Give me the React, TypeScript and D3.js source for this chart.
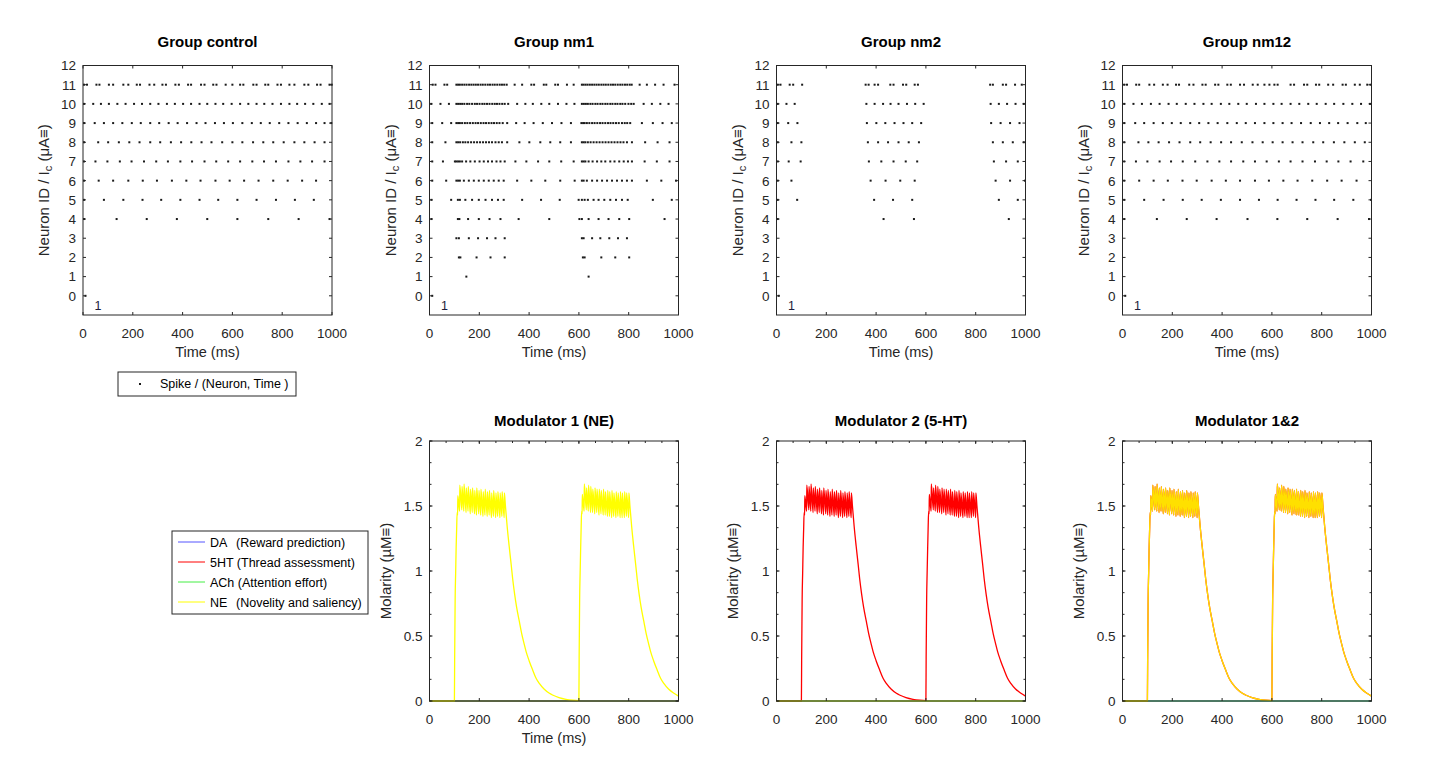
import React from "react";
import * as d3 from "d3";

const FONT = "'Liberation Sans', Arial, Helvetica, sans-serif";
const INK = "#262626";

const timeTicks = [0, 200, 400, 600, 800, 1000];
const neuronTicks = [0, 1, 2, 3, 4, 5, 6, 7, 8, 9, 10, 11, 12];
const molarityTicks = [0, 0.5, 1, 1.5, 2];

// spike times (ms) per neuron id 0..11
const controlSpikes: number[][] = [
	[10],
	[],
	[],
	[],
	[4, 135, 256, 377, 499, 620, 744, 866, 990],
	[4, 84, 162, 239, 314, 391, 468, 543, 620, 697, 775, 851, 927],
	[4, 63, 121, 182, 240, 297, 357, 415, 472, 532, 589, 647, 705, 764, 822, 880, 936],
	[4, 50, 98, 148, 195, 245, 294, 341, 391, 438, 488, 535, 583, 631, 680, 727, 775, 825, 873, 920, 970],
	[4, 61, 101, 144, 186, 227, 270, 310, 353, 394, 435, 476, 516, 559, 600, 640, 683, 724, 764, 806, 849, 889, 930, 970],
	[4, 47, 84, 121, 158, 196, 232, 270, 306, 344, 380, 418, 456, 492, 530, 566, 602, 640, 678, 714, 750, 788, 825, 862, 899, 936, 970, 997],
	[4, 41, 72, 104, 138, 171, 205, 237, 270, 303, 337, 369, 402, 434, 468, 499, 532, 563, 597, 631, 664, 697, 728, 761, 795, 829, 860, 892, 925, 959, 990],
	[4, 16, 54, 66, 104, 121, 162, 182, 216, 229, 267, 286, 319, 333, 371, 385, 422, 434, 474, 488, 523, 536, 573, 600, 631, 644, 684, 697, 732, 744, 781, 795, 829, 849, 889, 905, 940, 954, 990, 999],
];

const nm1Spikes: number[][] = [
	[11],
	[148, 639],
	[118, 124, 189, 245, 302, 616, 623, 690, 746, 802],
	[108, 118, 158, 195, 231, 265, 302, 612, 619, 653, 686, 722, 757, 793],
	[8, 114, 120, 155, 198, 241, 285, 358, 481, 602, 612, 639, 679, 719, 762, 802, 944],
	[8, 87, 114, 122, 144, 171, 198, 225, 251, 275, 298, 372, 448, 523, 599, 612, 623, 636, 659, 679, 702, 726, 749, 773, 796, 897, 973],
	[11, 67, 108, 115, 122, 138, 158, 178, 198, 218, 238, 258, 278, 298, 352, 409, 465, 525, 583, 612, 619, 632, 653, 673, 693, 713, 733, 753, 773, 793, 813, 873, 931, 990],
	[11, 54, 102, 108, 115, 122, 131, 147, 164, 182, 201, 218, 235, 251, 269, 285, 302, 345, 389, 436, 481, 529, 579, 612, 619, 626, 639, 655, 673, 690, 706, 726, 743, 762, 780, 797, 813, 864, 913, 964],
	[11, 64, 108, 115, 123, 134, 144, 155, 167, 179, 191, 203, 215, 227, 239, 251, 265, 278, 291, 312, 361, 401, 445, 485, 525, 568, 612, 619, 626, 636, 647, 659, 671, 683, 695, 707, 719, 731, 743, 755, 767, 779, 793, 813, 866, 916, 964],
	[11, 51, 87, 108, 115, 122, 131, 142, 152, 163, 174, 185, 195, 206, 217, 227, 238, 249, 259, 270, 281, 294, 312, 348, 382, 418, 455, 492, 530, 568, 610, 617, 623, 632, 642, 653, 663, 674, 685, 695, 706, 717, 727, 738, 749, 760, 773, 784, 794, 806, 853, 897, 936, 973],
	[7, 44, 78, 108, 115, 123, 131, 140, 151, 160, 171, 182, 191, 201, 212, 221, 231, 241, 252, 262, 271, 281, 292, 302, 316, 352, 385, 415, 449, 481, 516, 550, 582, 612, 620, 628, 636, 646, 655, 666, 675, 686, 695, 706, 715, 726, 735, 746, 755, 766, 775, 786, 799, 810, 820, 860, 893, 927, 960],
	[13, 24, 60, 71, 108, 115, 122, 131, 140, 149, 159, 168, 177, 186, 195, 205, 214, 224, 234, 243, 253, 262, 272, 282, 291, 300, 310, 342, 372, 409, 420, 459, 469, 505, 516, 552, 579, 612, 619, 627, 635, 644, 653, 662, 671, 680, 690, 699, 708, 718, 728, 737, 746, 756, 766, 775, 785, 794, 804, 812, 844, 873, 906, 940, 984],
];

const nm2Spikes: number[][] = [
	[9],
	[],
	[],
	[],
	[5, 430, 552, 933],
	[5, 83, 392, 468, 545, 893, 969],
	[5, 60, 378, 438, 497, 555, 880, 938, 998],
	[5, 49, 97, 371, 421, 470, 519, 565, 873, 922, 969],
	[5, 60, 100, 367, 408, 448, 490, 531, 572, 869, 909, 949, 993],
	[5, 47, 84, 363, 401, 437, 474, 510, 545, 581, 862, 900, 938, 976],
	[5, 40, 73, 361, 394, 428, 458, 490, 524, 557, 591, 860, 893, 926, 960, 993],
	[5, 16, 53, 67, 103, 358, 370, 394, 408, 457, 470, 508, 521, 555, 568, 858, 869, 909, 922, 958, 985],
];

const nm12Spikes: number[][] = [
	[11],
	[],
	[],
	[],
	[7, 138, 258, 378, 502, 622, 742, 864, 990],
	[7, 87, 165, 242, 318, 395, 472, 548, 623, 699, 775, 850, 927, 998],
	[7, 67, 125, 182, 241, 298, 358, 415, 472, 532, 588, 646, 703, 762, 822, 880, 940],
	[7, 54, 100, 149, 195, 242, 292, 341, 389, 436, 485, 532, 579, 628, 675, 723, 773, 820, 867, 916, 967],
	[7, 64, 104, 145, 187, 229, 272, 312, 354, 396, 436, 479, 522, 563, 603, 643, 683, 723, 766, 806, 849, 891, 933, 973],
	[7, 51, 87, 125, 162, 198, 234, 272, 308, 345, 382, 421, 459, 495, 532, 570, 606, 643, 679, 717, 756, 793, 830, 866, 904, 943, 977],
	[7, 44, 78, 114, 149, 185, 218, 254, 289, 325, 358, 395, 429, 465, 499, 536, 570, 606, 639, 675, 710, 746, 780, 816, 850, 887, 923, 958, 994],
	[7, 18, 55, 67, 108, 127, 162, 181, 215, 227, 268, 285, 321, 334, 372, 385, 421, 435, 472, 488, 523, 543, 570, 590, 610, 623, 675, 689, 729, 742, 777, 790, 826, 846, 884, 897, 933, 953, 983, 996],
];

// released modulator concentration (µM) as [time ms, value]
const releaseFirst: [number, number][] = [
	[0, 0], [100, 0], [101, 0.32], [102, 0.55], [103, 0.78], [105, 0.98], [107, 1.18], [109, 1.32], [111, 1.45],
	[113, 1.43], [113.6, 1.58], [121, 1.46], [121.6, 1.66], [130, 1.47], [130.6, 1.65], [138, 1.46], [138.6, 1.67],
	[147, 1.45], [147.6, 1.64], [155, 1.46], [155.6, 1.65], [164, 1.44], [164.6, 1.63], [172, 1.45], [172.6, 1.64],
	[181, 1.44], [181.6, 1.62], [189, 1.43], [189.6, 1.64], [198, 1.44], [198.6, 1.62], [206, 1.43], [206.6, 1.63],
	[215, 1.42], [215.6, 1.61], [223, 1.43], [223.6, 1.63], [232, 1.42], [232.6, 1.61], [240, 1.43], [240.6, 1.62],
	[249, 1.41], [249.6, 1.6], [257, 1.42], [257.6, 1.62], [266, 1.41], [266.6, 1.6], [274, 1.42], [274.6, 1.61],
	[283, 1.41], [283.6, 1.6], [291, 1.42], [291.6, 1.61], [300, 1.41], [300.6, 1.6],
	[305, 1.5], [312, 1.34], [320, 1.19], [328, 1.05], [334, 0.94], [342, 0.82], [350, 0.72], [361, 0.61],
	[370, 0.52], [380, 0.44], [388, 0.38], [400, 0.31], [414, 0.24], [428, 0.175], [441, 0.135], [460, 0.092],
	[480, 0.061], [494, 0.046], [520, 0.026], [548, 0.013], [575, 0.006], [600, 0.003],
];

const releaseSecond: [number, number][] = [
	[600, 0.003], [601, 0.33], [602, 0.56], [603, 0.78], [605, 0.99], [607, 1.17], [609, 1.33], [611, 1.46],
	[613, 1.44], [613.6, 1.59], [621, 1.46], [621.6, 1.67], [630, 1.47], [630.6, 1.64], [638, 1.46], [638.6, 1.66],
	[647, 1.45], [647.6, 1.65], [655, 1.45], [655.6, 1.63], [664, 1.44], [664.6, 1.64], [672, 1.45], [672.6, 1.63],
	[681, 1.43], [681.6, 1.63], [689, 1.44], [689.6, 1.62], [698, 1.43], [698.6, 1.63], [706, 1.43], [706.6, 1.61],
	[715, 1.42], [715.6, 1.62], [723, 1.42], [723.6, 1.61], [732, 1.41], [732.6, 1.62], [740, 1.42], [740.6, 1.6],
	[749, 1.41], [749.6, 1.61], [757, 1.42], [757.6, 1.6], [766, 1.41], [766.6, 1.61], [774, 1.41], [774.6, 1.6],
	[783, 1.41], [783.6, 1.61], [791, 1.42], [791.6, 1.6], [800, 1.41], [800.6, 1.6],
	[805, 1.5], [812, 1.34], [820, 1.19], [828, 1.05], [834, 0.94], [842, 0.82], [850, 0.72], [861, 0.61],
	[870, 0.52], [880, 0.44], [888, 0.38], [900, 0.31], [914, 0.24], [928, 0.175], [941, 0.135], [960, 0.092],
	[980, 0.061], [1000, 0.038],
];

const restingLevel: [number, number][] = [[0, 0], [1000, 0]];

const legendNames = ["DA", "5HT", "ACh", "NE"];
const legendRoles = ["(Reward prediction)", "(Thread assessment)", "(Attention effort)", "(Novelity and saliency)"];
const modColors = ["#5555ff", "#ff0000", "#44ee44", "#ffff00"];

const release = [...releaseFirst, ...releaseSecond.slice(1)];

const groups = [
	{ title: "Group control", spikes: controlSpikes, left: 83 },
	{ title: "Group nm1", spikes: nm1Spikes, left: 429.5 },
	{ title: "Group nm2", spikes: nm2Spikes, left: 776.5 },
	{ title: "Group nm12", spikes: nm12Spikes, left: 1122.5 },
];

const modulators = [
	{ title: "Modulator 1 (NE)", left: 429.5, curves: [restingLevel, restingLevel, restingLevel, release], xlabel: true },
	{ title: "Modulator 2 (5-HT)", left: 776.5, curves: [restingLevel, release, restingLevel, restingLevel], xlabel: false },
	{ title: "Modulator 1&2", left: 1122.5, curves: [restingLevel, release, restingLevel, release], xlabel: false },
];

const PW = 249;
const TICK = 3;

function Raster({ g }: { g: any }) {
	const x = d3.scaleLinear().domain([0, 1000]).range([g.left, g.left + PW]);
	const y = d3.scaleLinear().domain([-1, 12]).range([315, 65.5]);
	const [x0, x1] = x.range();
	const [y0, y1] = y.range();
	return (
		<g fontFamily={FONT}>
			{g.spikes.map((row: number[], id: number) =>
				row.map((t, i) => (
					<rect key={id + "-" + i} x={x(t) - 1} y={y(id) - 1} width={2} height={2} fill="#1a1a1a" />
				))
			)}
			<rect x={x0} y={y1} width={x1 - x0} height={y0 - y1} fill="none" stroke={INK} strokeWidth={1} />
			{timeTicks.map((t) => (
				<g key={t}>
					<line x1={x(t)} x2={x(t)} y1={y0} y2={y0 - TICK} stroke={INK} />
					<line x1={x(t)} x2={x(t)} y1={y1} y2={y1 + TICK} stroke={INK} />
					<text x={x(t)} y={y0 + 23} fontSize={13.5} textAnchor="middle" fill={INK}>{t}</text>
				</g>
			))}
			{neuronTicks.map((n) => (
				<g key={n}>
					<line x1={x0} x2={x0 + TICK} y1={y(n)} y2={y(n)} stroke={INK} />
					<line x1={x1} x2={x1 - TICK} y1={y(n)} y2={y(n)} stroke={INK} />
					<text x={x0 - 7} y={y(n)} dy="0.36em" fontSize={13.5} textAnchor="end" fill={INK}>{n}</text>
				</g>
			))}
			<text x={x(60)} y={y(-0.5)} dy="0.38em" fontSize={12.5} textAnchor="middle" fill="#1c1c3a">1</text>
			<text x={(x0 + x1) / 2} y={47} fontSize={15} fontWeight="bold" textAnchor="middle" fill="#000">{g.title}</text>
			<text x={(x0 + x1) / 2} y={y0 + 42} fontSize={14.5} textAnchor="middle" fill={INK}>Time (ms)</text>
			<text transform={`translate(${x0 - 34},${(y0 + y1) / 2}) rotate(-90)`} fontSize={15} textAnchor="middle" fill={INK}>
				Neuron ID / I<tspan fontSize={11} dy={3}>c</tspan><tspan dy={-3}> (μA≡)</tspan>
			</text>
		</g>
	);
}

function Modulator({ m }: { m: any }) {
	const x = d3.scaleLinear().domain([0, 1000]).range([m.left, m.left + PW]);
	const y = d3.scaleLinear().domain([0, 2]).range([701, 441]);
	const [x0, x1] = x.range();
	const [y0, y1] = y.range();
	const line = d3
		.line<[number, number]>()
		.x((d) => x(d[0]))
		.y((d) => y(d[1]))
		.curve(d3.curveMonotoneX);
	const minorY = d3.range(0, 2.0001, 0.5 / 3);
	const minorX = d3.range(0, 1000.01, 200 / 3);
	const both = m.curves[1] === release && m.curves[3] === release;
	return (
		<g fontFamily={FONT}>
			{m.curves.map((c: [number, number][], i: number) => (
				<path
					key={i}
					d={line(c) || ""}
					fill="none"
					stroke={modColors[i]}
					strokeWidth={c === release ? 1.3 : 1}
					strokeLinejoin="round"
					strokeOpacity={both && i === 3 ? 0.88 : 1}
				/>
			))}
			<rect x={x0} y={y1} width={x1 - x0} height={y0 - y1} fill="none" stroke={INK} strokeWidth={1} />
			{minorY.map((v, i) => (
				<g key={"my" + i}>
					<line x1={x0} x2={x0 + 2} y1={y(v)} y2={y(v)} stroke={INK} />
					<line x1={x1} x2={x1 - 2} y1={y(v)} y2={y(v)} stroke={INK} />
				</g>
			))}
			{minorX.map((t, i) => (
				<line key={"mx" + i} x1={x(t)} x2={x(t)} y1={y1} y2={y1 + 2} stroke={INK} />
			))}
			{timeTicks.map((t) => (
				<g key={t}>
					<line x1={x(t)} x2={x(t)} y1={y0} y2={y0 - TICK} stroke={INK} />
					<line x1={x(t)} x2={x(t)} y1={y1} y2={y1 + TICK} stroke={INK} />
					<text x={x(t)} y={y0 + 23} fontSize={13.5} textAnchor="middle" fill={INK}>{t}</text>
				</g>
			))}
			{molarityTicks.map((v) => (
				<g key={v}>
					<line x1={x0} x2={x0 + TICK} y1={y(v)} y2={y(v)} stroke={INK} />
					<line x1={x1} x2={x1 - TICK} y1={y(v)} y2={y(v)} stroke={INK} />
					<text x={x0 - 7} y={y(v)} dy="0.36em" fontSize={13.5} textAnchor="end" fill={INK}>{v}</text>
				</g>
			))}
			<text x={(x0 + x1) / 2} y={426} fontSize={15} fontWeight="bold" textAnchor="middle" fill="#000">{m.title}</text>
			{m.xlabel && (
				<text x={(x0 + x1) / 2} y={y0 + 42} fontSize={14.5} textAnchor="middle" fill={INK}>Time (ms)</text>
			)}
			<text transform={`translate(${x0 - 39},${(y0 + y1) / 2}) rotate(-90)`} fontSize={15} textAnchor="middle" fill={INK}>
				Molarity (µM≡)
			</text>
		</g>
	);
}

export default function App() {
	return (
		<svg width={1455} height={774} style={{ position: "absolute", left: 0, top: 0, background: "#fff" }}>
			<rect width={1455} height={774} fill="#fff" />
			{groups.map((g) => (
				<Raster key={g.title} g={g} />
			))}
			{modulators.map((m) => (
				<Modulator key={m.title} m={m} />
			))}
			<g fontFamily={FONT}>
				<rect x={118} y={372} width={178} height={24} fill="#fff" stroke={INK} />
				<rect x={139} y={383} width={2} height={2} fill="#1a1a1a" />
				<text x={160} y={388} fontSize={12.5} fill="#000">Spike / (Neuron, Time )</text>
			</g>
			<g fontFamily={FONT}>
				<rect x={172} y={531} width={196} height={83} fill="#fff" stroke={INK} />
				{legendNames.map((name, i) => (
					<g key={name}>
						<line x1={178} x2={205} y1={542 + i * 20} y2={542 + i * 20} stroke={modColors[i]} />
						<text x={210} y={546.5 + i * 20} fontSize={12.5} fill="#000">
							{name === "DA" || name === "NE" ? (
								<>
									{name}
									<tspan x={236}>{legendRoles[i]}</tspan>
								</>
							) : (
								name + " " + legendRoles[i]
							)}
						</text>
					</g>
				))}
			</g>
		</svg>
	);
}
